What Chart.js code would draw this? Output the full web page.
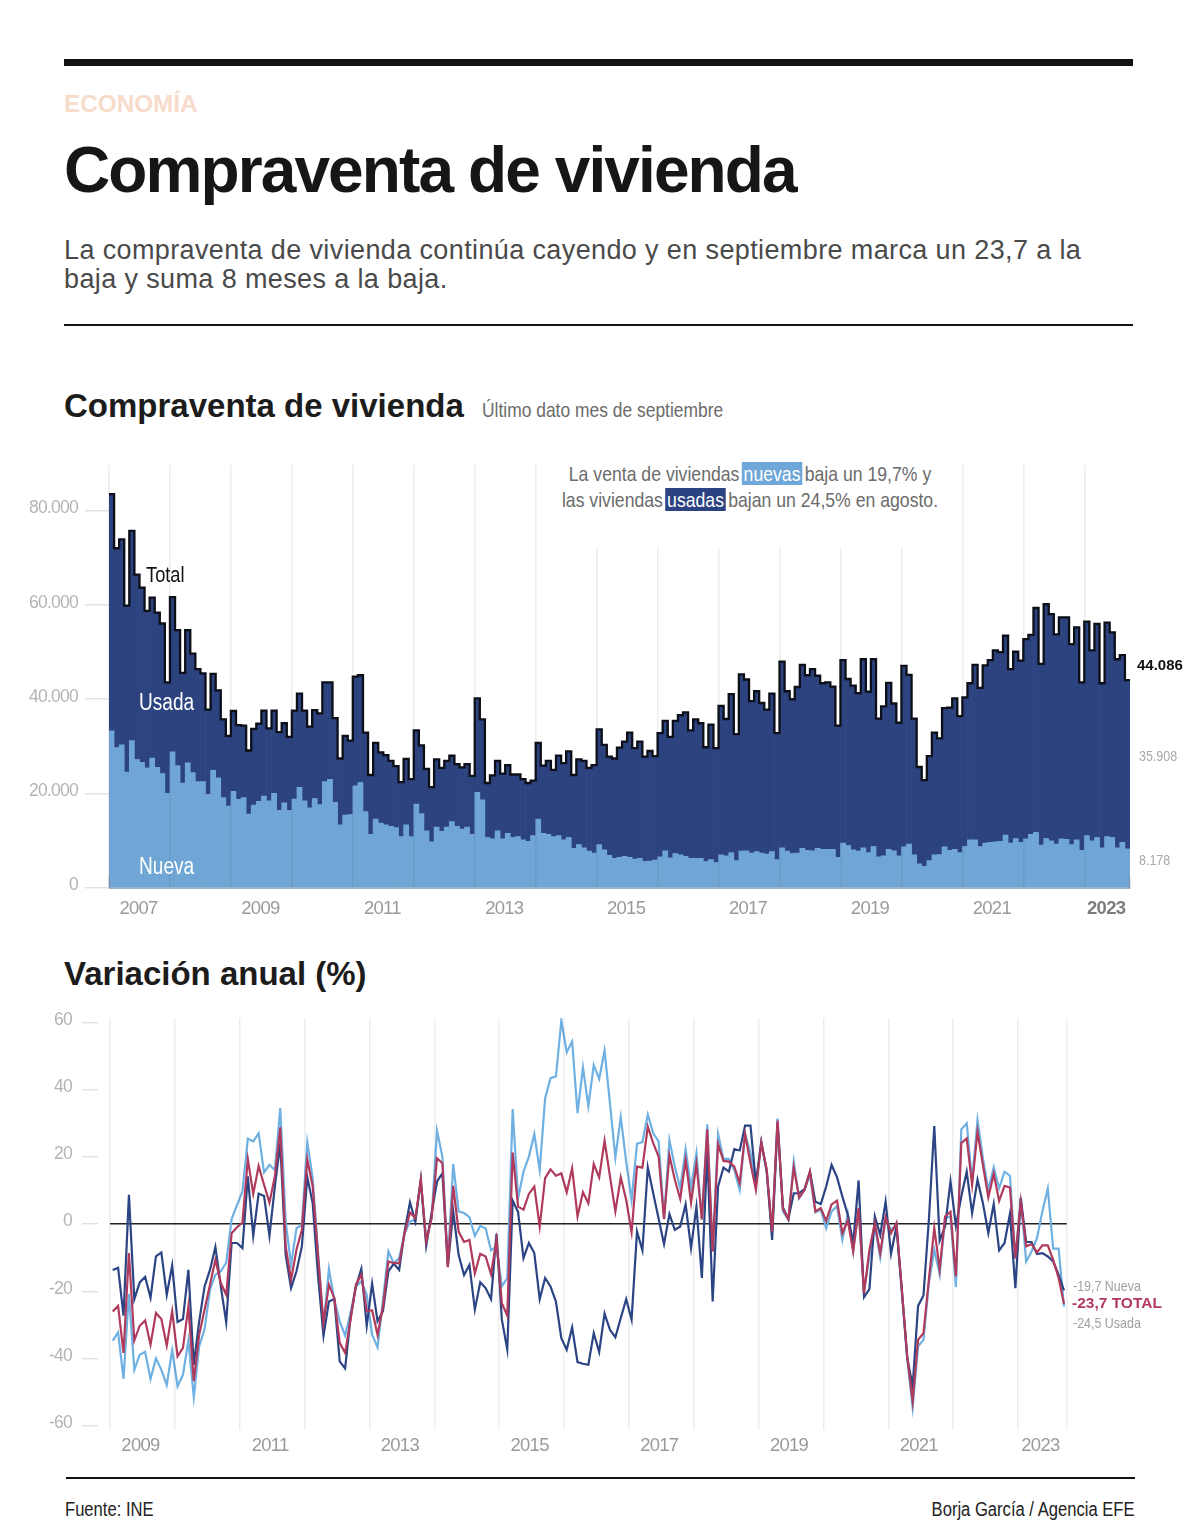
<!DOCTYPE html>
<html lang="es"><head><meta charset="utf-8">
<script src="https://cdn.jsdelivr.net/npm/chart.js@4"></script>
<style>
html,body{margin:0;padding:0;background:#fff}
#page{position:relative;width:1199px;height:1538px;overflow:hidden;background:#fff;font-family:"Liberation Sans",Arial,sans-serif}
#page canvas{position:absolute;left:0}
.t{position:absolute;white-space:nowrap;line-height:1}
.n{transform:scaleX(.83);transform-origin:0 50%}
.rule{position:absolute;background:#111}
#ann{position:absolute;left:545px;top:462px;width:410px;height:86px;background:#fff}
#ann div{position:absolute;left:50%;white-space:nowrap;font:21px "Liberation Sans",sans-serif;color:#6b6b6b;line-height:24px;transform:translateX(-50%) scaleX(.84)}
#ann span{color:#fff;padding:0 2px}
</style></head><body><div id="page">
<div class="rule" style="left:64px;top:59px;width:1069px;height:7px"></div>
<div class="t" style="left:64px;top:92px;font-size:24.3px;font-weight:700;color:#f7dccb">ECONOMÍA</div>
<div class="t" style="left:64px;top:138px;font-size:64px;font-weight:700;color:#161616;letter-spacing:-1.9px">Compraventa de vivienda</div>
<div class="t" style="left:64px;top:236px;font-size:27px;color:#4a4a4a;line-height:28.5px;letter-spacing:0.38px">La compraventa de vivienda continúa cayendo y en septiembre marca un 23,7 a la<br>baja y suma 8 meses a la baja.</div>
<div class="rule" style="left:64px;top:324px;width:1069px;height:2px"></div>
<div class="t" style="left:64px;top:389px;font-size:33px;font-weight:700;color:#1c1c1c">Compraventa de vivienda</div>
<div class="t n" style="left:482px;top:399px;font-size:21px;color:#6b6b6b">Último dato mes de septiembre</div>
<canvas id="c1" width="1199" height="480" style="top:450px"></canvas>
<div id="ann">
<div style="top:0">La venta de viviendas<span style="background:#6fa8d8;margin:0 3px">nuevas</span>baja un 19,7% y</div>
<div style="top:26px">las viviendas<span style="background:#2b4380;margin:0 3px">usadas</span>bajan un 24,5% en agosto.</div>
</div>
<div class="t n" style="left:146px;top:564px;font-size:22px;color:#111">Total</div>
<div class="t n" style="left:139px;top:691px;font-size:23px;color:#fff">Usada</div>
<div class="t n" style="left:139px;top:855px;font-size:23px;color:#fff">Nueva</div>
<div class="t" style="left:1137px;top:657px;font-size:15px;font-weight:700;color:#111">44.086</div>
<div class="t n" style="left:1139px;top:748px;font-size:15px;color:#a8a8a8">35.908</div>
<div class="t n" style="left:1139px;top:852px;font-size:15px;color:#a8a8a8">8.178</div>
<div class="t" style="left:64px;top:957px;font-size:33px;font-weight:700;color:#1c1c1c">Variación anual (%)</div>
<canvas id="c2" width="1199" height="470" style="top:1000px"></canvas>
<div class="t n" style="left:1073px;top:1278px;font-size:15px;color:#a0a0a0">-19,7 Nueva</div>
<div class="t" style="left:1072px;top:1295px;font-size:15.5px;font-weight:700;color:#b23a5c">-23,7 TOTAL</div>
<div class="t n" style="left:1073px;top:1315px;font-size:15px;color:#a0a0a0">-24,5 Usada</div>
<div class="rule" style="left:66px;top:1477px;width:1069px;height:2px"></div>
<div class="t n" style="left:65px;top:1499px;font-size:20px;color:#222">Fuente: INE</div>
<div class="t n" style="right:64px;top:1499px;font-size:20px;color:#222;transform-origin:100% 50%">Borja García / Agencia EFE</div>
</div>
<script>
// Compraventas mensuales, enero 2007 – septiembre 2023
const firstYear1 = 2007;
const totalValues = [
83600,72100,74000,59900,75800,66500,63700,58800,61600,58400,56100,43600,
61700,54700,45600,54700,49700,46400,45500,37800,45400,41900,35700,32200,
37500,34500,34400,29100,33700,34800,37600,33800,37600,33000,34900,32000,
37600,41200,37600,34200,37700,37000,43600,43600,36000,27400,32200,31200,
44800,45100,32900,23900,30700,28700,28100,26900,25800,22400,27300,23000,
33400,30200,25200,21300,27200,25400,26900,27990,26200,25500,26200,23700,
40200,35700,22200,23800,26900,24200,26000,24000,24000,23000,22200,22700,
30700,25900,26900,25000,28000,26400,28900,23900,27200,26900,25400,26000,
33600,30300,27800,27400,29700,31000,32900,29600,31000,27800,29000,27900,
32800,35400,32000,35400,36600,37200,33400,35700,34900,29800,34600,29600,
38600,35800,41100,32600,45300,44200,39600,41700,39200,37800,41200,32800,
48000,41700,40000,42600,47300,45100,46400,45000,43400,43600,42700,34400,
48300,44300,42900,41300,48500,41600,48500,35900,38500,43500,39100,35000,
47100,45200,35900,25600,22800,27900,32900,31700,38100,38200,40200,36400,
40400,43400,47300,42400,47200,48300,50400,50000,53500,46400,50100,48200,
52800,53700,59400,47500,60200,58100,53800,57400,57400,51700,55300,43600,
56500,50400,56000,43400,56300,54200,48500,49400,44086];
const nuevaValues = [
33300,29700,30300,24500,31200,27200,26600,25400,27500,25500,24200,20000,
28800,25900,22200,26500,24400,22500,22500,19800,24900,23300,19100,17300,
20400,18700,19100,15600,17500,18300,19400,18400,20000,16400,18000,16400,
18800,21300,18400,16900,18900,17600,22500,23000,18100,13300,15400,15500,
21600,22300,16100,11300,14500,13700,13300,13000,12700,10800,13300,10800,
17700,15700,12000,9700,12800,11900,12800,14000,13000,12400,12800,11300,
20200,18600,10600,10300,12000,10300,11500,10600,10800,10100,9800,11000,
14500,11500,11300,10800,11000,10100,10600,8300,9100,8400,7700,7300,
9100,8000,6800,6200,6400,6600,6400,6000,6200,5500,5600,5800,
6500,7800,6300,7200,6900,6600,6200,6200,6200,5500,5900,5300,
6900,6700,7400,5700,7700,7800,7300,7600,7300,7100,7600,5900,
8400,7700,7200,7300,8300,7900,7800,8300,8100,8100,8100,6400,
9400,8900,8000,7700,8400,7400,8700,6500,6700,8100,7800,6700,
8600,9200,6900,5000,4500,5700,6900,7000,8600,7900,8100,7400,
8700,10100,10100,8700,9400,9600,9700,9800,11100,9400,10400,9600,
10300,11300,11700,9000,10400,9900,9200,10300,10200,9100,10100,7900,
11000,9900,10600,8400,10800,10600,8400,9600,8178];
const usadaValues = totalValues.map((v,i)=>v-nuevaValues[i]);
const yTicks1 = [0,20000,40000,60000,80000];
const xYearLabels1 = [2007,2009,2011,2013,2015,2017,2019,2021,2023];

// Variación anual (%), enero 2009 – septiembre 2023
const firstYear2 = 2009;
const varNueva = [
-13.6,-13,-27.2,8.7,-22.3,-17.3,-15.7,-21.9,-9.6,-8.4,-21,-12.3,
-29.1,-28.2,-13.6,-41.8,-28.9,-18.5,-13.6,-6.8,-18.5,-29.2,-5.6,-5.6,
-7.1,14.2,-3.5,9.1,8.4,-3.5,11.2,24,-9.1,-19,-14,-6.6,
14,6.2,-15.5,-33.2,-23,-22.2,-40.8,-42.9,-27.9,-18.5,-13.3,-30.2,
-17.7,-28.9,-25.9,-14,-11.8,-13.6,-2.2,6.5,0.8,13.2,-6.4,3.3,
12.7,15.1,-12.6,3.8,-9.1,-15.1,-12.1,-25.4,-17.3,-19,-22.3,-2.9,
-28.4,-37.3,7,3.6,-10.1,-5.6,-8.6,-22.3,-16,-18.5,-23,-33.9,
-37.3,-30.7,-41,-41.5,-41.8,-32.4,-38,-26.6,-31.4,-33.6,-27.9,-22.3,
-28.4,-2.2,-7.8,16.9,9.2,1.6,-5.9,3,-1.7,-0.7,5.9,-7.1,
5.2,-16,21.6,-23,11.2,16.8,15.6,22.3,21.9,29.3,29.3,12.2,
24.3,16,-4.7,30,5,1.5,9.2,9.2,10.4,15.6,6.7,6,
11.2,17.6,14,8.2,2.8,-5.6,13,-21.7,-19.3,2.3,-3.2,6.7,
-8.8,-0.7,-19.5,-39.8,-48.2,-24.3,-21.2,1.3,29.2,-4.9,-0.7,12.7,
-0.5,8.2,15.6,3.3,13.2,6.2,-2.7,6,-7.8,-5.6,3.1,-19,
7.7,-5.3,-5.3,-8.9,-8.6,-9.6,-11.1,-15,-19.7];
const varTotal = [
-26,-24.3,-38.3,-8.6,-34.6,-30.2,-28.6,-35.8,-26.4,-28.2,-36.1,-25.9,
-39.3,-36.8,-24.5,-46.7,-32.9,-25.4,-18,-10.6,-17.5,-21,-2.7,-0.9,
0.5,19.3,9,17.3,11.7,6.4,14.2,28.8,-6.6,-16.5,-7.6,-1.7,
19.3,11.2,-9.6,-29.4,-18,-22,-35.3,-38.3,-28.4,-18,-15,-25.9,
-25.6,-32.9,-24.5,-11.1,-11.6,-11.6,-2.7,3.5,1.8,13.2,-5.1,1.8,
19.6,18.1,-12.8,11.4,-2.2,-5.3,-4.7,-14.6,-8.8,-9.6,-14.9,-4.7,
-23.5,-27.2,21.3,5.2,4.3,9,11.2,-0.7,13.7,16.3,14.4,15.1,
9.5,16.6,2.3,9.5,6.2,17.9,13.9,24.8,14.2,3.8,13.9,7.2,
-2.4,17.1,16.8,29,24.1,20.1,1.5,20.4,13.2,7.5,19.1,6.4,
17.9,1.5,28.2,-8.1,23.8,18.8,18.6,17.1,12.2,26.8,18.1,10.2,
24.3,16.1,-2.2,30.8,4.5,1.5,16.9,7.9,10.2,15.6,3.8,4.8,
1,5.9,7,-2.7,1.1,-8.1,4.8,-20.5,-7.6,0.3,-8.6,2.1,
-2.7,0.3,-19.5,-39.3,-52.7,-34.4,-32.4,-16.5,-1.2,-13.4,2.3,3.7,
-15.5,24.1,25.5,11.7,27.5,17.6,8,15,6.9,11.4,10.9,-10.1,
6.7,-6.6,-5.9,-8.4,-6.3,-6.3,-10.6,-16,-23.7];
const varUsada = [
-34.6,-32.2,-46,-20.7,-43.3,-38.8,-38,-46,-39.9,-43.3,-47.8,-37.5,
-48.2,-44.8,-34.6,-51.4,-36.3,-31.2,-19.5,-15,-14,-11.4,1.5,5.7,
9.7,25.4,24.6,27,15.4,17.6,16.1,34.5,0.8,-12.1,-1.2,-0.2,
24.4,13.7,-8.6,-30.4,-13.3,-22.5,-28.9,-33.1,-26.4,-18.5,-17,-21,
-32.9,-36.6,-22.5,-8.1,-11.6,-10.1,-2.7,0.8,1.3,12.7,-4.7,1.8,
27.8,20,-11.6,17.9,3.8,3.3,2.1,-3.5,-0.5,-1.3,-7.8,-6.6,
-18.5,-16,34.2,7.7,15.6,20.1,26.8,16.1,37.4,43.4,43.9,60.5,
51.1,54.3,33,46.6,35.1,47.3,43.2,51.6,35.9,19.8,31.8,18.6,
7.2,23.9,24.4,32.6,27,24.6,1.8,25,17.1,10.7,22.3,10.7,
21.1,1.3,29.7,-8.1,26.8,19.4,19.4,16.1,10.2,26.8,21.1,12.2,
24.4,15.1,-2.2,31.4,3.8,1.3,18.6,7.7,10.2,14.7,3.5,4.3,
-1.2,3.8,5.4,-4.7,3.1,-8.1,4.3,-20,-9.6,-0.7,-9.9,1.8,
-1.7,-0.2,-20.5,-40.3,-54.5,-36.3,-34.4,-17.5,-7.6,-15,1.8,2.3,
-18.7,28.2,30,12.7,31,19.6,10.2,16.9,10.7,15.6,14.4,-10.4,
8,-11.1,-8.1,-4.2,3.8,10.6,-7.3,-7.3,-24.5];
const yTicks2 = [-60,-40,-20,0,20,40,60];
const xYearLabels2 = [2009,2011,2013,2015,2017,2019,2021,2023];

const FONT = '"Liberation Sans",sans-serif';
const TICK_SIZE = 18.5;
const Y_TICK_SIZE = 17.5;
const GREY = '#b4b4b4';
const gridCol = 'rgba(40,50,70,0.09)';
Chart.defaults.animation = false;
Chart.defaults.responsive = false;
Chart.defaults.plugins.legend.display = false;
Chart.defaults.plugins.tooltip.enabled = false;

const yearBounds = (n)=>{const a=[];for(let m=0;m<=n;m+=12)a.push(m-0.5);return a;};
const setTicks = (vals)=> (s)=>{s.ticks = vals.map(v=>({value:v}));};
const midYear = (y,first,n)=>{const s=(y-first)*12;const e=Math.min(s+12,n);return (s+e)/2-0.5;};
const yearOf = (v,first)=>first+Math.floor((v+0.5)/12);
const narrowTicks = {id:'narrowTicks',beforeDraw(ch){ch.ctx.letterSpacing='-0.75px';}};
const fitY = (w)=> (s)=>{s.width=w;s.paddingTop=0;s.paddingBottom=0;};

function xAxes(n,first,years,bottomH,pad,shift,rightEdge){
  const bounds = yearBounds(n); if(rightEdge) bounds.push(n-0.5);
  const isLast = c => first===2007 && c.tick && yearOf(c.tick.value,first)===2023;
  return {
    x:{type:'linear',position:'bottom',min:-0.5,max:n-0.5,offset:false,stacked:true,weight:0,
       afterBuildTicks:setTicks(bounds),afterFit:s=>{s.height=0;},
       ticks:{display:false},
       grid:{offset:false,color:gridCol,lineWidth:1.5,drawTicks:false,z:1},
       border:{display:false}},
    xl:{type:'linear',position:'bottom',min:-0.5,max:n-0.5,offset:false,weight:1,
       afterBuildTicks:setTicks(years.map(y=>midYear(y,first,n))),
       afterFit:s=>{s.height=bottomH;},
       grid:{display:false,drawTicks:false},border:{display:false},
       ticks:{padding:pad,labelOffset:shift,autoSkip:false,maxRotation:0,
         callback:v=>String(yearOf(v,first)),
         color:c=>isLast(c)?'#7d7d7d':'#9a9a9a',
         font:c=>({family:FONT,size:TICK_SIZE,weight:isLast(c)?'700':'400'})}}
  };
}

new Chart(document.getElementById('c1'),{
  data:{datasets:[
    {type:'line',label:'Total',order:0,xAxisID:'x',
     data:totalValues.map((v,i)=>({x:i-0.5,y:v})).concat([{x:totalValues.length-0.5,y:totalValues[totalValues.length-1]}]),
     stepped:true,borderColor:'#0c0f18',borderWidth:2.3,pointRadius:0,fill:false,borderJoinStyle:'miter',borderCapStyle:'butt'},
    {type:'bar',label:'Nueva',order:1,stack:'s',xAxisID:'x',data:nuevaValues.map((v,i)=>({x:i,y:v})),
     backgroundColor:'#6fa6d5',barPercentage:1,categoryPercentage:1},
    {type:'bar',label:'Usada',order:2,stack:'s',xAxisID:'x',data:usadaValues.map((v,i)=>({x:i,y:v})),
     backgroundColor:'#2c437f',barPercentage:1,categoryPercentage:1}
  ]},
  options:{
    layout:{padding:{top:15,right:69,left:0,bottom:0}},
    scales:Object.assign(xAxes(totalValues.length,firstYear1,xYearLabels1,42.6,10,-1,false),{
      y:{min:0,max:89800,stacked:true,position:'left',
         afterBuildTicks:setTicks(yTicks1),afterFit:fitY(109),
         border:{display:false},
         grid:{drawOnChartArea:false,tickLength:24,tickColor:'#e2e2e2',lineWidth:1.5},
         ticks:{padding:7,labelOffset:-2.5,color:GREY,font:{family:FONT,size:Y_TICK_SIZE},
                callback:v=>v===0?'0':v.toLocaleString('de-DE')}}
    })
  },
  plugins:[narrowTicks,{id:'base',afterDatasetsDraw(ch){
     const a=ch.chartArea,c=ch.ctx;c.save();c.strokeStyle='#7f96b2';c.lineWidth=1.5;
     c.beginPath();c.moveTo(a.left+0.5,a.bottom-10);c.lineTo(a.left+0.5,a.bottom+0.5);c.lineTo(a.right-0.5,a.bottom+0.5);c.lineTo(a.right-0.5,a.bottom-10);c.stroke();c.restore();}}]
});

new Chart(document.getElementById('c2'),{
  data:{datasets:[
    {type:'line',label:'Total',order:0,xAxisID:'x',data:varTotal.map((v,i)=>({x:i,y:v})),borderColor:'#b03a5b',borderWidth:2.2,pointRadius:0,tension:0,borderJoinStyle:'miter'},
    {type:'line',label:'Nueva',order:1,xAxisID:'x',data:varNueva.map((v,i)=>({x:i,y:v})),borderColor:'#2b4484',borderWidth:2.2,pointRadius:0,tension:0,borderJoinStyle:'miter'},
    {type:'line',label:'Usada',order:2,xAxisID:'x',data:varUsada.map((v,i)=>({x:i,y:v})),borderColor:'#6fb0e3',borderWidth:2.2,pointRadius:0,tension:0,borderJoinStyle:'miter'}
  ]},
  options:{
    layout:{padding:{top:18,right:132.3,left:0,bottom:0}},
    scales:Object.assign(xAxes(varTotal.length,firstYear2,xYearLabels2,40,5,-2,true),{
      y:{min:-61.2,max:61.3,position:'left',
         afterBuildTicks:setTicks(yTicks2),afterFit:fitY(110),
         border:{display:false},
         grid:{color:c=>c.tick&&c.tick.value===0?'#222':'rgba(0,0,0,0)',lineWidth:1.4,tickLength:28,tickColor:'#e2e2e2',tickBorderDash:[16,40]},
         ticks:{padding:10,labelOffset:-2.5,color:GREY,font:{family:FONT,size:Y_TICK_SIZE}}}
    })
  },
  plugins:[narrowTicks]
});
</script></body></html>
